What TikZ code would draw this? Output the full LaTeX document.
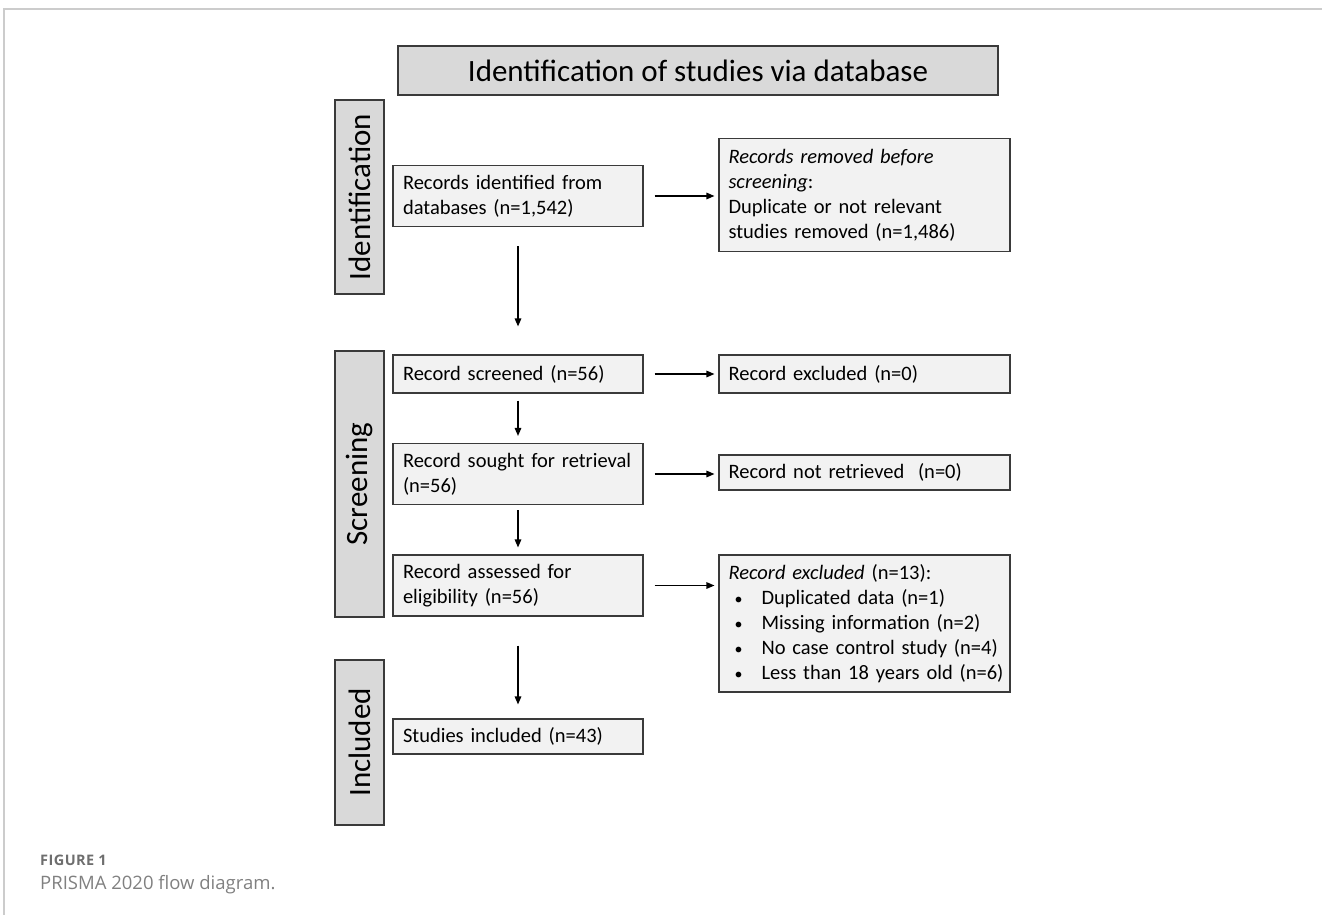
\documentclass[tikz,border=0pt]{standalone}
\usepackage{fontspec}
\setmainfont{Carlito}
\newfontfamily\capfont{Open Sans}
\usetikzlibrary{arrows.meta}
\definecolor{boxfill}{HTML}{F2F2F2}
\definecolor{headfill}{HTML}{D9D9D9}
\definecolor{edgecol}{HTML}{3A3A3A}
\definecolor{rulecol}{HTML}{CCCCCC}
\definecolor{capgray}{HTML}{808080}
\definecolor{figgray}{HTML}{6E6E6E}
\newcommand{\bitem}[1]{\mbox{\hspace*{6pt}\makebox[27pt][l]{\fontsize{16}{16}\selectfont\textbullet}#1}}
\begin{document}
\begin{tikzpicture}[x=1pt,y=-1pt,
  base/.style={draw=edgecol,line width=1.1pt,inner sep=0pt},
  head/.style={base,fill=headfill,minimum width=600pt,minimum height=49pt,font=\fontsize{31}{37}\selectfont},
  side/.style={base,fill=headfill,rotate=90,minimum height=49pt,font=\fontsize{31}{37}\selectfont},
  lbox/.style={base,fill=boxfill,minimum height=#1,text width=230pt,inner xsep=10pt,align=left,font=\fontsize{20.5}{25}\selectfont},
  rbox/.style={base,fill=boxfill,minimum height=#1,text width=272pt,inner xsep=9.5pt,align=left,font=\fontsize{20.5}{25}\selectfont},
  arr/.style={line width=1.4pt,-{Triangle[length=8pt,width=6.5pt]}}
]
\useasboundingbox (0,0) rectangle (1322,915);
% frame rules
\draw[rulecol,line width=1.5pt] (4,915) -- (4,9) -- (1322,9);

% title
\node[head] (title) at (698,70.5) {Identification of studies via database};

% side labels
\node[side,minimum width=194pt] (sid) at (359.5,197) {Identification};
\node[side,minimum width=266pt] (sscr) at (359.5,484) {Screening};
\node[side,minimum width=165pt] (sinc) at (359.5,742.5) {Included};

% left column
\node[lbox=61pt] (b1) at (518,196) {Records identified from\\databases (n=1,542)};
\node[lbox=38pt] (b2) at (518,374) {Record screened (n=56)};
\node[lbox=61pt] (b3) at (518,474) {Record sought for retrieval\\(n=56)};
\node[lbox=61pt] (b4) at (518,585.5) {Record assessed for\\eligibility (n=56)};
\node[lbox=35pt] (b5) at (518,736.5) {Studies included (n=43)};

% right column
\node[rbox=113pt] (r1) at (864.5,195) {\textit{Records removed before}\\\textit{screening}:\\Duplicate or not relevant\\studies removed (n=1,486)};
\node[rbox=38pt] (r2) at (864.5,374) {Record excluded (n=0)};
\node[rbox=35pt] (r3) at (864.5,472.5) {Record not retrieved~~(n=0)};
\node[rbox=137pt] (r4) at (864.5,623.5) {\textit{Record excluded} (n=13):\\
  \bitem{Duplicated data (n=1)}\\
  \bitem{Missing information (n=2)}\\
  \bitem{No case control study (n=4)}\\
  \bitem{Less than 18 years old (n=6)}};

% horizontal arrows
\draw[arr,shorten <=11pt,shorten >=4pt] (b1.east) -- (b1.east -| r1.west);
\draw[arr,shorten <=11pt,shorten >=4pt] (b2.east) -- (b2.east -| r2.west);
\draw[arr,shorten <=11pt,shorten >=4pt] (b3.east) -- (b3.east -| r3.west);
\draw[arr,shorten <=11pt,shorten >=4pt] (b4.east) -- (b4.east -| r4.west);

% vertical arrows
\draw[arr,shorten <=19pt,shorten >=28pt] (b1.south) -- (b2.north);
\draw[arr,shorten <=7pt,shorten >=7pt] (b2.south) -- (b3.north);
\draw[arr,shorten <=5pt,shorten >=7pt] (b3.south) -- (b4.north);
\draw[arr,shorten <=29pt,shorten >=14pt] (b4.south) -- (b5.north);

% caption
\node[anchor=base west,inner sep=0pt,text=figgray,font=\capfont\bfseries\fontsize{14.5}{17}\selectfont\addfontfeature{LetterSpace=3}] (fig) at (40,865) {FIGURE 1};
\node[anchor=base west,inner sep=0pt,text=capgray,font=\capfont\fontsize{18.5}{22}\selectfont] (cap) at (40,889) {PRISMA 2020 flow diagram.};
\end{tikzpicture}
\end{document}
